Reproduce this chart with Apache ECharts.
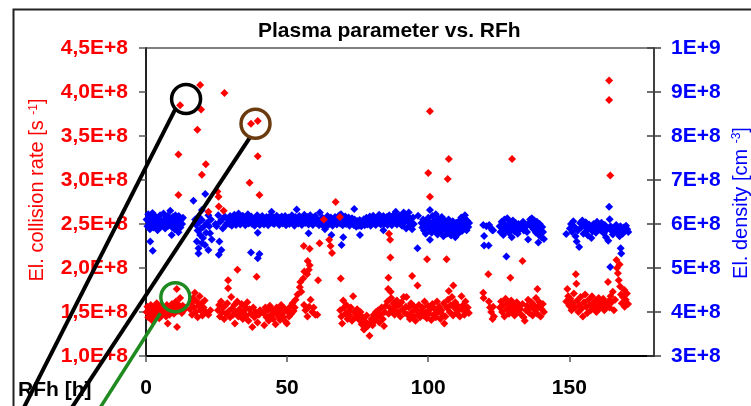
<!DOCTYPE html>
<html><head><meta charset="utf-8">
<script src="https://cdn.jsdelivr.net/npm/echarts@6.0.0/dist/echarts.min.js"></script>
<style>html,body{margin:0;padding:0;background:#fff}#c{width:751px;height:406px}</style>
</head><body><div id="c"></div>
<script>
// ---------------- DATA (x = RFh [h]) ----------------
// El. collision rate, values in units of 1E+8 s^-1
const rateLowStart = [[0.2,1.50],[0.5,1.56],[0.8,1.44],[1.1,1.52],[1.4,1.47],[1.7,1.58],[2.0,1.41],[2.3,1.53],[2.6,1.49],[2.9,1.55],[3.2,1.45],[3.5,1.51],[3.8,1.60],[4.1,1.48],[4.4,1.54],[4.7,1.43],[5.0,1.50],[5.3,1.57],[5.6,1.46],[5.9,1.52],[6.2,1.55],[6.5,1.48],[6.8,1.53],[7.1,1.45],[7.4,1.58],[7.7,1.37],[8.0,1.51],[8.3,1.47],[8.6,1.55],[8.9,1.50],[9.2,1.59],[9.5,1.53],[9.9,1.48],[10.3,1.56],[10.6,1.62],[10.9,1.76],[11.0,1.33],[11.3,1.51],[11.6,1.58],[12.1,1.66],[12.4,1.54],[12.7,1.49],[13.0,1.57],[13.4,1.52],[13.8,1.55]];
const rateHighEarly = [[11.5,3.29],[11.5,2.83],[12.1,3.85],[18.2,3.57],[19.2,4.08],[19.5,3.80],[19.8,3.06],[21.2,3.18],[22.1,2.64],[25.3,2.87],[25.7,2.81],[25.8,2.70],[27.5,2.65],[27.8,3.99],[37.2,3.64],[39.6,3.67],[39.6,3.27],[36.7,2.97],[40.2,2.83]];
const rateSeg2 = [[15.6,1.53],[16.0,1.60],[16.3,1.47],[16.7,1.66],[17.0,1.55],[17.3,1.72],[17.6,1.50],[18.0,1.62],[18.3,1.44],[18.6,1.57],[19.0,1.68],[19.3,1.52],[19.7,1.60],[20.0,1.46],[20.4,1.55],[20.8,1.63],[21.2,1.50],[22.1,1.47],[22.8,1.52],[25.5,1.52],[25.9,1.58],[26.2,1.45],[26.6,1.62],[27.0,1.50],[27.3,1.55],[27.7,1.42],[28.0,1.57],[28.4,1.48],[28.8,1.60],[29.1,1.86],[29.1,1.77],[29.4,1.51],[29.8,1.44],[30.2,1.67],[30.5,1.54],[30.9,1.47],[31.3,1.58],[31.5,1.37],[31.9,1.50],[32.4,1.98],[32.3,1.62],[32.7,1.45],[33.1,1.53],[33.5,1.48],[33.9,1.59],[34.3,1.42],[34.7,1.51],[35.1,1.56],[35.5,1.46],[35.9,1.61],[36.3,1.40],[36.7,1.53],[37.1,1.48],[37.7,1.33],[38.0,1.55],[38.4,1.44],[38.8,1.50],[39.2,1.90],[39.5,1.38],[40.0,1.47],[40.4,1.52]];
const rateSeg3 = [[41.6,1.49],[41.9,1.35],[42.3,1.55],[42.7,1.44],[43.1,1.52],[43.5,1.40],[43.9,1.57],[44.3,1.47],[44.7,1.53],[45.1,1.42],[45.5,1.50],[45.9,1.36],[46.3,1.55],[46.7,1.46],[47.1,1.52],[47.5,1.41],[47.9,1.58],[48.3,1.48],[48.7,1.44],[49.1,1.54],[49.5,1.39],[49.9,1.37],[50.3,1.50],[50.7,1.45],[51.1,1.56],[51.5,1.48],[51.9,1.60],[52.3,1.51],[52.7,1.55],[53.0,1.64],[53.7,1.70],[54.5,1.78],[54.7,1.84],[55.0,1.73],[55.7,1.88],[55.9,2.25],[56.1,1.96],[57.1,1.93],[57.3,2.08],[57.7,1.98],[58.0,2.03],[58.0,2.22],[58.3,1.64],[58.9,1.50],[56.0,1.58],[56.5,1.52],[57.2,1.45],[57.8,1.56],[59.4,1.55],[60.0,1.47],[60.7,1.47],[61.0,1.86],[61.5,2.28],[63.0,2.55],[64.9,2.32],[65.4,2.25],[65.9,2.17],[67.2,2.75],[68.7,2.58],[69.0,1.88]];
const rateSeg4 = [[68.8,1.52],[69.2,1.45],[69.5,1.37],[69.9,1.63],[70.2,1.55],[70.6,1.48],[71.0,1.58],[71.4,1.42],[71.8,1.51],[72.2,1.46],[72.6,1.55],[73.0,1.40],[73.4,1.68],[73.8,1.50],[74.2,1.44],[74.8,1.53],[75.2,1.47],[75.6,1.41],[76.0,1.50],[76.4,1.36],[76.8,1.44],[77.2,1.30],[77.5,1.31],[77.8,1.39],[78.2,1.46],[78.6,1.34],[79.2,1.23],[79.5,1.38],[79.9,1.42],[80.3,1.35],[80.7,1.47],[81.1,1.40],[81.5,1.50],[81.9,1.44],[82.3,1.52],[82.7,1.38],[83.1,1.47],[83.5,1.55],[83.9,1.42],[84.3,1.34],[84.6,1.50],[85.0,1.57],[85.5,1.62],[85.8,1.76],[85.9,1.89],[86.1,2.39],[86.5,2.32],[86.6,2.12],[86.7,1.73],[86.0,1.48],[86.4,1.55],[86.9,1.66],[87.3,1.52],[87.7,1.60],[88.1,1.47],[88.5,1.56],[88.9,1.63],[89.3,1.50],[89.7,1.58],[90.1,1.45],[90.5,1.61],[90.9,1.53],[91.3,1.67],[91.7,1.49],[92.1,1.56]];
const rateSeg5 = [[92.3,1.67],[92.7,1.47],[93.1,1.55],[93.5,1.42],[93.9,1.60],[94.3,1.91],[94.3,1.50],[94.7,1.45],[95.1,1.56],[95.5,1.40],[95.9,1.52],[96.2,1.80],[96.3,1.47],[96.7,1.58],[97.1,1.44],[97.5,1.51],[97.9,1.55],[98.3,1.46],[98.7,1.62],[99.1,1.50],[99.5,1.43],[99.6,2.10],[99.9,1.57],[100.0,3.08],[100.6,3.78],[100.6,2.81],[100.3,1.48],[100.7,1.53],[101.1,1.41],[101.5,1.59],[101.9,1.47],[102.3,1.54],[102.7,1.44],[103.1,1.62],[103.5,1.50],[103.9,1.56],[104.3,1.42],[104.7,1.52],[105.1,1.47],[105.5,1.60],[105.7,1.37],[106.1,1.45],[106.5,2.10],[106.9,3.01],[107.3,3.24],[106.6,1.55],[107.0,1.64],[107.3,1.74],[107.6,1.50],[108.0,1.58],[108.4,1.67],[108.9,1.80],[108.8,1.46],[109.2,1.55],[109.6,1.61],[110.0,1.49],[110.4,1.57],[110.8,1.52],[111.2,1.45],[111.8,1.68],[112.0,1.53],[112.4,1.58],[112.8,1.47],[113.2,1.62],[113.6,1.51],[114.0,1.55],[114.4,1.49]];
const rateSeg6 = [[119.5,1.72],[119.6,1.66],[121.3,1.93],[121.5,1.62],[121.9,1.55],[122.3,1.50],[122.8,1.42],[123.0,1.56],[123.3,1.45],[125.4,1.55],[125.8,1.62],[126.2,1.50],[126.6,1.58],[127.0,1.45],[127.4,1.65],[127.8,1.53],[128.2,1.60],[128.6,1.48],[129.1,1.89],[129.0,1.56],[129.4,1.63],[129.7,3.24],[129.8,1.51],[130.2,1.58],[130.6,1.46],[131.0,1.55],[131.4,1.61],[131.8,1.50],[132.2,1.57],[132.6,1.53],[133.0,1.47],[133.4,2.08],[133.4,1.59],[133.8,1.44],[134.2,1.40],[134.6,1.52],[135.0,1.57],[135.4,1.64],[135.8,1.49],[136.2,1.55],[136.6,1.61],[137.0,1.46],[137.4,1.58],[137.8,1.52],[138.2,1.66],[138.7,1.76],[138.6,1.48],[139.0,1.56],[139.4,1.61],[139.8,1.45],[140.2,1.53],[140.6,1.59],[141.0,1.50]];
const rateSeg7 = [[148.9,1.62],[149.3,1.76],[149.6,1.68],[150.0,1.57],[150.4,1.65],[150.8,1.52],[151.2,1.60],[151.6,1.71],[152.0,1.55],[152.3,1.93],[152.5,1.82],[152.8,1.63],[153.2,1.50],[153.6,1.58],[154.0,1.67],[154.4,1.54],[154.8,1.45],[155.2,1.61],[155.6,1.70],[156.0,1.56],[156.4,1.49],[156.8,1.64],[157.2,1.58],[157.6,1.52],[158.0,1.68],[158.4,1.60],[158.8,1.55],[159.2,1.63],[159.6,1.50],[160.0,1.58],[160.4,1.66],[160.8,1.54],[161.2,1.61],[161.6,1.57],[162.0,1.65],[162.4,1.52],[162.8,1.60],[163.2,1.56],[163.7,1.84],[163.8,1.62],[164.1,4.13],[164.1,3.91],[164.5,3.05],[164.2,1.55],[164.6,1.68],[165.0,1.61],[165.4,1.73],[165.8,1.52],[166.2,1.64],[166.7,2.09],[166.9,2.00],[167.2,1.94],[167.5,1.86],[167.8,2.04],[168.0,1.79],[168.3,1.70],[168.6,1.60],[169.0,1.67],[169.5,1.75],[169.6,1.56],[170.0,1.64],[170.4,1.71],[170.8,1.59]];

// El. density, values in units of 1E+8 cm^-3
const densSeg1 = [[0.2,6.10],[0.5,5.95],[0.8,6.22],[1.1,6.04],[1.4,5.88],[1.5,5.60],[1.7,6.15],[2.0,6.00],[2.3,6.25],[2.4,5.39],[2.6,5.92],[2.9,6.08],[3.2,6.18],[3.5,5.97],[3.8,6.05],[4.1,5.86],[4.4,6.12],[4.7,6.02],[5.0,6.20],[5.3,5.94],[5.6,6.07],[5.9,5.99],[6.2,6.24],[6.5,6.03],[6.8,5.90],[7.1,6.14],[7.4,6.00],[7.7,6.19],[8.0,5.96],[8.3,6.09],[8.6,6.30],[8.9,6.01],[9.1,5.75],[9.2,5.93],[9.5,6.16],[9.8,6.05],[10.1,5.88],[10.4,6.20],[10.7,6.00],[11.0,6.11],[11.5,5.81],[11.3,5.95],[11.6,6.18],[11.9,6.04],[12.2,5.92],[12.5,6.10],[12.8,6.00],[13.1,6.14]];
const densSeg2 = [[16.8,6.53],[17.4,6.10],[17.8,5.98],[18.0,5.60],[18.3,5.85],[18.6,6.17],[18.6,5.45],[18.6,5.33],[19.0,6.05],[19.2,5.75],[19.5,5.90],[19.8,6.32],[19.8,6.09],[19.8,5.56],[20.2,5.68],[20.4,5.94],[20.9,5.52],[21.0,6.68],[21.3,5.80],[21.6,6.02],[22.1,6.20],[22.1,5.41],[22.4,5.95],[22.7,5.79],[23.0,6.10],[23.3,5.65],[24.6,6.00],[25.0,5.95],[25.6,6.20],[25.8,5.30],[26.0,5.60],[26.3,6.05],[26.7,6.09],[26.7,5.41],[27.2,5.90],[27.9,6.17],[28.3,5.98],[28.7,6.02]];
const densSeg3 = [[29.2,6.10],[29.5,6.00],[29.8,6.18],[30.1,6.06],[30.4,5.96],[30.7,6.13],[31.0,6.03],[31.3,6.21],[31.6,6.08],[31.9,5.98],[32.2,6.15],[32.5,6.05],[32.8,6.24],[33.1,6.10],[33.4,5.99],[33.7,6.16],[34.0,6.07],[34.3,6.19],[34.6,6.02],[34.9,6.12],[35.2,5.97],[35.5,6.14],[35.8,6.06],[36.1,6.22],[36.4,6.01],[36.7,6.11],[37.0,6.04],[37.2,5.35],[37.3,6.17],[37.6,6.00],[37.9,6.12],[38.2,6.07],[38.5,5.96],[38.8,6.15],[39.1,6.05],[39.6,5.80],[39.6,5.22],[40.2,5.32],[39.4,6.20],[39.7,6.02],[40.0,6.10],[40.3,5.98],[40.6,6.14],[40.9,6.04],[41.2,6.18],[41.5,6.07],[41.8,5.99],[42.1,6.12],[42.4,6.03],[42.7,6.16],[43.0,6.06],[43.3,5.97],[43.6,6.13],[43.9,6.05],[44.2,6.20],[44.5,6.28],[44.8,6.02],[45.1,6.11],[45.4,6.00],[45.7,6.15],[46.0,6.07],[46.3,6.19],[46.6,6.03],[46.9,6.12],[47.2,5.98],[47.5,6.14],[47.8,6.06],[48.1,6.17],[48.4,6.01],[48.7,6.10],[49.0,6.04],[49.3,6.18],[49.6,5.97],[49.9,6.11],[50.2,6.05],[50.5,6.15],[50.8,6.00],[51.1,6.13],[51.4,6.07],[51.7,6.20],[52.0,6.02],[52.3,6.12],[52.6,5.96],[52.9,6.16],[53.2,6.06],[53.4,6.33],[53.7,6.10],[54.0,6.01],[54.3,6.18],[54.6,6.04],[54.9,6.13],[55.2,5.98],[55.5,6.15],[55.8,6.07],[56.1,6.21],[56.4,6.02],[56.7,6.11],[57.0,6.05],[57.3,6.16],[57.6,5.79],[57.6,5.99],[57.9,6.12],[58.2,6.20],[58.5,6.04],[58.8,6.10],[59.1,5.98],[59.4,6.14],[59.7,6.06],[60.0,6.18],[60.3,6.02],[60.6,6.11]];
const densSeg4 = [[61.0,6.05],[61.3,5.97],[61.6,6.26],[61.9,6.10],[62.2,6.00],[62.5,6.14],[62.8,6.06],[63.1,5.95],[63.4,5.88],[63.7,6.12],[64.0,6.03],[64.3,6.18],[64.6,5.98],[64.9,6.09],[65.2,6.02],[65.7,5.75],[65.5,6.15],[65.8,6.05],[66.1,5.96],[66.4,6.11],[66.7,6.02],[67.0,6.16],[67.3,6.07],[67.6,5.99],[67.9,6.13],[68.2,6.04],[68.5,6.20],[68.8,6.01],[69.1,6.22],[69.3,5.52],[69.9,5.70],[69.4,6.08],[69.7,5.97],[70.0,6.12],[70.3,6.04],[70.6,6.17],[70.9,6.00],[71.2,6.10],[71.5,6.03],[71.8,6.15],[72.1,5.96],[72.4,6.08],[72.7,6.02],[73.0,6.13],[73.3,6.05],[73.8,6.34],[73.6,5.98],[73.9,6.10],[74.2,6.03],[74.5,5.94],[74.8,6.07],[75.1,6.01],[75.4,5.96],[75.8,5.75],[75.7,6.09],[76.0,6.02],[76.3,5.95],[76.6,6.06],[76.9,6.00],[77.2,6.11],[77.5,5.97],[77.8,6.05],[78.1,6.14],[78.4,5.99],[78.7,6.08],[79.0,6.02],[79.3,6.17],[79.6,5.96],[79.9,6.10],[80.2,6.04],[80.5,6.19],[80.8,6.01],[81.1,6.12],[81.4,5.98],[81.7,6.07],[82.0,6.15],[82.3,6.03],[82.6,6.21],[82.9,6.09],[83.2,5.99],[83.5,6.13],[83.8,6.05],[84.1,5.86],[84.1,6.18],[84.4,6.00],[84.7,6.10],[85.0,6.04],[85.3,6.16],[85.6,5.98],[85.9,6.08],[86.2,6.20],[86.5,6.02],[86.8,6.12],[87.1,5.97],[87.4,6.15],[87.7,6.06],[88.0,6.22],[88.5,6.28],[88.3,6.03],[88.6,6.11],[88.9,5.99],[89.2,6.14],[89.5,6.05],[89.8,6.19],[90.1,6.01],[90.4,6.10],[90.7,5.96],[91.0,6.13],[91.3,6.26],[91.6,6.04],[91.9,6.12]];
const densSeg5 = [[92.2,5.90],[92.5,6.18],[92.8,6.05],[93.1,6.26],[93.4,5.96],[93.7,6.12],[94.0,6.02],[94.3,5.88],[94.6,6.15],[94.9,6.00],[96.2,5.45],[96.4,6.19],[97.6,6.02],[97.9,5.92],[98.2,6.10],[98.5,5.85],[98.8,6.00],[99.1,5.78],[99.4,6.08],[99.7,5.95],[100.0,6.14],[100.6,6.32],[100.6,5.64],[100.3,5.88],[100.9,6.03],[101.2,5.80],[101.5,6.18],[101.8,5.94],[102.1,6.07],[102.4,5.86],[102.7,6.22],[103.0,6.00],[103.3,5.76],[103.6,6.12],[103.9,5.90],[104.2,6.05],[104.5,5.83],[104.8,6.16],[105.1,5.97],[105.4,5.72],[105.7,6.09],[106.0,5.88],[106.3,6.02],[106.6,5.78],[106.9,5.95],[107.2,6.10],[107.5,5.84],[107.8,6.00],[108.1,5.74],[108.4,5.91],[108.7,6.06],[109.0,5.82],[109.3,5.96],[109.6,5.70],[109.9,6.03],[110.2,5.87],[110.5,5.98],[110.8,5.79],[111.1,6.08],[111.4,5.92],[111.7,6.15],[112.0,5.84],[112.3,6.01],[112.6,5.90],[112.9,6.13],[113.0,6.20],[113.3,5.96],[113.6,5.86],[113.9,6.07],[114.2,5.93],[114.5,6.02]];
const densSeg6 = [[119.5,5.98],[119.8,5.73],[119.8,5.51],[120.6,5.95],[121.4,5.51],[121.6,5.98],[122.3,5.90],[122.7,5.86],[123.0,5.86],[125.3,5.95],[125.6,5.82],[126.0,6.05],[126.3,5.90],[126.6,5.75],[127.0,6.10],[127.3,5.98],[127.7,5.26],[127.6,5.85],[128.0,6.13],[128.3,5.94],[128.6,5.80],[129.0,6.04],[129.3,5.88],[129.6,5.70],[130.0,6.08],[130.3,5.96],[130.6,5.83],[131.0,6.02],[131.3,5.92],[131.7,5.78],[132.0,6.00],[132.3,5.87],[133.0,5.98],[133.3,5.90],[133.6,6.05],[133.9,5.85],[134.2,6.00],[134.5,5.93],[135.0,5.82],[135.4,5.65],[135.8,6.02],[136.1,6.10],[136.4,5.95],[136.7,6.13],[137.0,6.03],[137.3,5.88],[137.6,6.08],[137.9,5.97],[138.2,5.80],[138.5,6.05],[138.8,5.92],[139.0,5.58],[139.2,5.75],[139.5,6.00],[139.8,5.85],[140.1,5.70],[140.4,5.93],[140.7,5.82],[141.0,5.66]];
const densSeg7 = [[148.9,5.77],[150.2,5.90],[150.6,6.00],[151.0,5.82],[151.4,6.06],[151.8,5.94],[152.2,5.72],[152.6,5.60],[153.0,5.85],[153.5,5.48],[153.8,6.02],[154.2,5.92],[154.6,6.08],[155.0,5.78],[155.4,5.96],[155.8,6.04],[156.2,5.86],[156.6,5.74],[157.0,5.99],[157.4,5.90],[157.8,5.68],[158.2,5.83],[158.6,6.00],[159.0,5.94],[159.4,5.80],[159.8,6.05],[160.2,5.90],[160.6,5.97],[161.0,5.86],[161.4,6.03],[161.8,5.92],[162.2,5.79],[162.6,5.98],[163.0,5.70],[163.4,5.88],[163.8,5.62],[164.1,6.39],[164.3,6.11],[164.5,5.02],[164.6,5.95],[165.0,5.84],[165.4,5.76],[165.8,5.92],[166.2,5.86],[166.6,5.98],[167.0,5.80],[167.4,5.90],[167.8,5.72],[168.2,5.45],[168.4,5.33],[168.1,5.95],[168.5,5.84],[168.9,5.78],[169.3,5.92],[169.7,5.85],[170.1,5.96],[170.5,5.88],[170.9,5.82]];

// Highlight circles (x in h, y in 1E+8 s^-1 on the collision-rate axis)
const markX = [14.2, 38.8, 10.4];
const markY = [3.92, 3.64, 1.668];

// ---------------- CHART ----------------
const FONT = '"Liberation Sans", Arial, sans-serif';
const E8 = arr => arr.map(p => [p[0], p[1] * 1e8]);
const rate = E8([].concat(rateLowStart, rateHighEarly, rateSeg2, rateSeg3, rateSeg4, rateSeg5, rateSeg6, rateSeg7));
const dens = E8([].concat(densSeg1, densSeg2, densSeg3, densSeg4, densSeg5, densSeg6, densSeg7));

const chart = echarts.init(document.getElementById('c'), null, {renderer: 'canvas'});
const boldLbl = {fontFamily: FONT, fontWeight: 'bold', fontSize: 21};
chart.setOption({
  animation: false,
  backgroundColor: '#ffffff',
  title: {text: 'Plasma parameter vs. RFh', left: 253, top: 16,
    textStyle: {fontFamily: FONT, fontWeight: 'bold', fontSize: 21, color: '#000'}},
  grid: {left: 146, right: 97, top: 48, bottom: 50, show: true, borderColor: '#000', borderWidth: 1},
  xAxis: {type: 'value', min: 0, max: 180, interval: 50,
    axisLine: {lineStyle: {color: '#000', width: 2}},
    axisTick: {length: 6, lineStyle: {color: '#555', width: 1.5}},
    axisLabel: Object.assign({margin: 22, color: '#000', showMaxLabel: false}, boldLbl),
    splitLine: {show: false}},
  yAxis: [
    {type: 'value', position: 'left', min: 1e8, max: 4.5e8, interval: 0.5e8,
      axisLine: {show: true, lineStyle: {color: '#222', width: 2}},
      axisTick: {show: true, length: 7, lineStyle: {color: '#555', width: 1.5}},
      axisLabel: Object.assign({margin: 18, color: '#ff0000',
        formatter: v => (v / 1e8).toFixed(1).replace('.', ',') + 'E+8'}, boldLbl),
      splitLine: {show: false}},
    {type: 'value', position: 'right', min: 3e8, max: 10e8, interval: 1e8,
      axisLine: {show: true, lineStyle: {color: '#404040', width: 2}},
      axisTick: {show: true, length: 7, lineStyle: {color: '#404040', width: 1.5}},
      axisLabel: Object.assign({margin: 17, color: '#0000ff',
        formatter: v => v >= 1e9 ? '1E+9' : Math.round(v / 1e8) + 'E+8'}, boldLbl),
      splitLine: {show: false}},
    {type: 'value', position: 'right', min: 3e8, max: 10e8, interval: 1e8,
      axisLine: {show: false},
      axisTick: {show: true, inside: true, length: 7, lineStyle: {color: '#404040', width: 1.5}},
      axisLabel: {show: false}, splitLine: {show: false}}
  ],
  series: [
    {name: 'El. density', type: 'scatter', yAxisIndex: 1, symbol: 'diamond', symbolSize: 8,
      itemStyle: {color: '#0000ff', opacity: 1}, data: dens, z: 2},
    {name: 'El. collision rate', type: 'scatter', yAxisIndex: 0, symbol: 'diamond', symbolSize: 8,
      itemStyle: {color: '#ff0000', opacity: 1}, data: rate, z: 3}
  ]
});

// annotation graphics
const colors = ['#000000', '#6b3a0e', '#1f8a1f'];
const lineColors = ['#000000', '#000000', '#1f8a1f'];
const lineStart = [[-11, 10.5], [-6, 14.5], [-15, 16]];
const lineEnd = [[-166, 316], [-189, 292], [-80, 118]];
const g = [
  {type: 'rect', shape: {x: 13.5, y: 9.5, width: 900, height: 600},
    style: {fill: 'none', stroke: '#222', lineWidth: 2}, z: 50},
  {type: 'text', x: 18, y: 390, z: 60,
    style: {text: 'RFh [h]', fontFamily: FONT, fontWeight: 'bold', fontSize: 21, fill: '#000',
      align: 'left', verticalAlign: 'middle'}},
  {type: 'text', x: 37.5, y: 190, rotation: Math.PI / 2, z: 60,
    style: {text: 'El. collision rate [s {sup|-1}]', fontFamily: FONT, fontSize: 20, fill: '#ff0000',
      align: 'center', verticalAlign: 'middle',
      rich: {sup: {fontFamily: FONT, fontSize: 12, fill: '#ff0000', verticalAlign: 'top'}}}},
  {type: 'text', x: 741, y: 203, rotation: Math.PI / 2, z: 60,
    style: {text: 'El. density [cm {sup|-3}]', fontFamily: FONT, fontSize: 20, fill: '#0000ff',
      align: 'center', verticalAlign: 'middle',
      rich: {sup: {fontFamily: FONT, fontSize: 12, fill: '#0000ff', verticalAlign: 'top'}}}}
];
for (let i = 0; i < markX.length; i++) {
  const c = chart.convertToPixel({xAxisIndex: 0, yAxisIndex: 0}, [markX[i], markY[i] * 1e8]);
  g.push({type: 'line', z: 100, shape: {x1: c[0] + lineStart[i][0], y1: c[1] + lineStart[i][1],
      x2: c[0] + lineEnd[i][0], y2: c[1] + lineEnd[i][1]},
    style: {stroke: lineColors[i], lineWidth: i === 2 ? 3.5 : 4}});
  g.push({type: 'circle', z: 101, shape: {cx: c[0], cy: c[1], r: 14.5},
    style: {fill: 'none', stroke: colors[i], lineWidth: 3.5}});
}
chart.setOption({graphic: g});
</script></body></html>
